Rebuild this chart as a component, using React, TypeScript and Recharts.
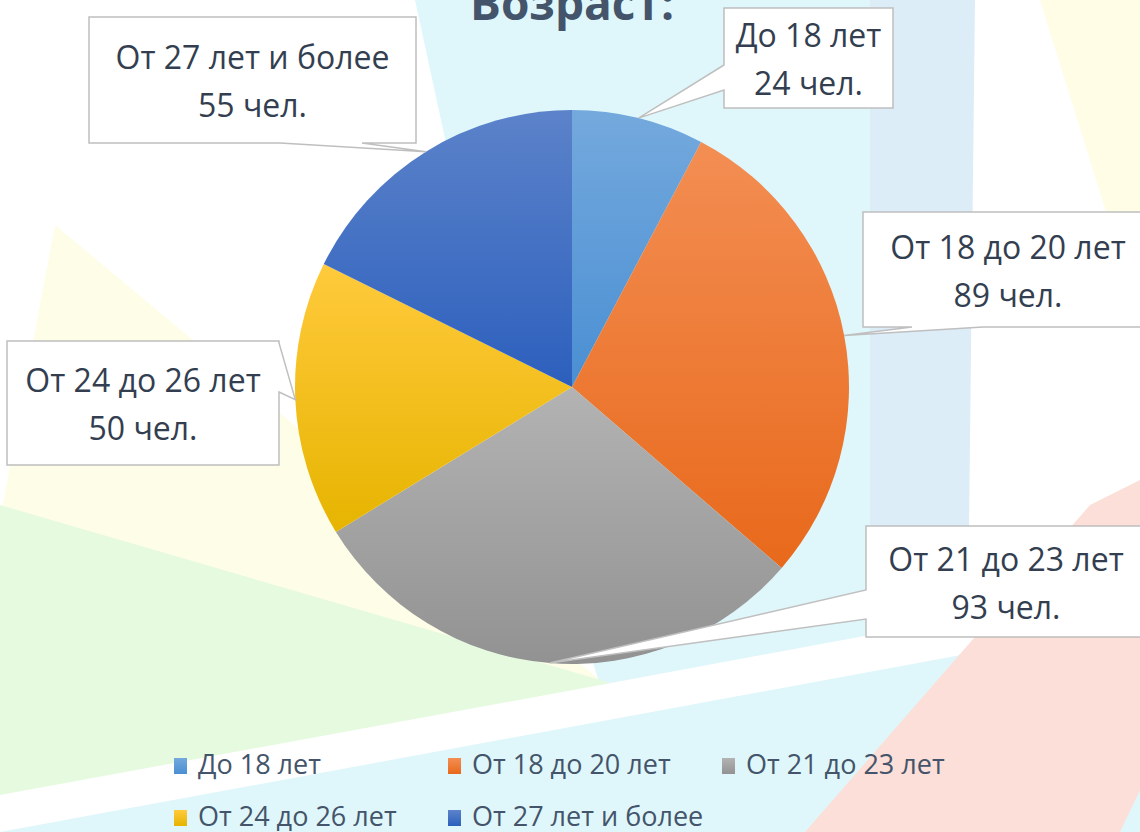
import React from 'react';
import { PieChart, Pie, Cell, Legend } from 'recharts';

const chartTitle = 'Возраст:';
const categories = ['До 18 лет', 'От 18 до 20 лет', 'От 21 до 23 лет', 'От 24 до 26 лет', 'От 27 лет и более'];
const counts = [24, 89, 93, 50, 55];
const unitLabel = 'чел.';

const data = categories.map((name, i) => ({ name, value: counts[i] }));

// top / bottom colour of each slice gradient
const sliceColors = [
  ['#74A9DD', '#4A8FD3'],
  ['#F38E53', '#E8691B'],
  ['#B3B3B3', '#929292'],
  ['#FFCA3C', '#E6B400'],
  ['#5C83CA', '#2C5FBD'],
];

const FONT = "'Open Sans', sans-serif";
const TEXT_COLOR = '#333F50';

// callout boxes were placed by hand in the original, so are here too
const callouts = [
  { x: 724, y: 8, w: 169, h: 100, side: 'left', a: 65, b: 90 },
  { x: 863, y: 212, w: 290, h: 115, side: 'bottom', a: 912, b: 983 },
  { x: 866, y: 526, w: 280, h: 111, side: 'left', a: 590, b: 619 },
  { x: 7, y: 341, w: 272, h: 124, side: 'right', a: 343, b: 392 },
  { x: 89, y: 17, w: 327, h: 126, side: 'bottom', a: 280, b: 362 },
];

const calloutPath = (c: any, tx: number, ty: number) => {
  const r = c.x + c.w;
  const btm = c.y + c.h;
  let d = `M${c.x},${c.y} L${r},${c.y} `;
  if (c.side === 'right') d += `L${r},${c.a} L${tx},${ty} L${r},${c.b} `;
  d += `L${r},${btm} `;
  if (c.side === 'bottom') d += `L${c.b},${btm} L${tx},${ty} L${c.a},${btm} `;
  d += `L${c.x},${btm} `;
  if (c.side === 'left') d += `L${c.x},${c.b} L${tx},${ty} L${c.x},${c.a} `;
  return d + 'Z';
};

const renderCallout = (props: any) => {
  const { cx, cy, midAngle, outerRadius, index, name, value } = props;
  const rad = Math.PI / 180;
  const tx = cx + outerRadius * Math.cos(-midAngle * rad);
  const ty = cy + outerRadius * Math.sin(-midAngle * rad);
  const c = callouts[index];
  const mx = c.x + c.w / 2;
  const my = c.y + c.h / 2;
  return (
    <g key={`callout-${index}`}>
      <path d={calloutPath(c, tx, ty)} fill="#FFFFFF" stroke="#BFBFBF" strokeWidth={1.5} />
      <text x={mx} y={my - 11} textAnchor="middle" fontSize={32} fontFamily={FONT} fill={TEXT_COLOR}>
        {name}
      </text>
      <text x={mx} y={my + 37} textAnchor="middle" fontSize={32} fontFamily={FONT} fill={TEXT_COLOR}>
        {`${value} ${unitLabel}`}
      </text>
    </g>
  );
};

// legend laid out in a 3 column grid, like the office chart
const renderLegend = (props: any) => {
  const { payload } = props;
  return (
    <svg width={1140} height={92}>
      {(payload || []).map((entry: any, i: number) => {
        const col = i % 3;
        const row = Math.floor(i / 3);
        const x = 174 + col * 274;
        const y = 18 + row * 52;
        return (
          <g key={`leg-${i}`}>
            <rect x={x} y={y} width={13} height={16} fill={`url(#slice-grad-${i})`} />
            <text x={x + 24} y={y + 16} fontSize={27} fontFamily={FONT} fill="#44546A">
              {entry.value}
            </text>
          </g>
        );
      })}
    </svg>
  );
};

const Background = () => (
  <svg width={1140} height={832} style={{ position: 'absolute', left: 0, top: 0 }}>
    <defs>
      {sliceColors.map(([top, bottom], i) => (
        <linearGradient key={i} id={`slice-grad-${i}`} x1="0" y1="0" x2="0" y2="1">
          <stop offset="0%" stopColor={top} />
          <stop offset="100%" stopColor={bottom} />
        </linearGradient>
      ))}
    </defs>
    <rect x={0} y={0} width={1140} height={832} fill="#FFFFFF" />
    <polygon points="1040,0 1140,0 1140,320" fill="#FFFDE6" />
    <polygon points="55,225 600,680 0,520" fill="#FEFDE8" />
    <polygon points="415,0 875,0 875,634 600,685 480,300" fill="#DFF7FA" />
    <polygon points="870,0 975,0 968,617 870,635" fill="#DCEDF8" />
    <polygon points="0,505 611,683 0,795" fill="#E6FAE0" />
    <polygon points="0,832 1140,622 1140,832" fill="#DFF7FA" />
    <polygon points="1090,505 1140,480 1140,790 1120,832 805,832" fill="#FCDFD8" />
    <text x={572} y={20} textAnchor="middle" fontSize={46} fontWeight={700} fontFamily={FONT} fill="#44546A">
      {chartTitle}
    </text>
  </svg>
);

export default function App() {
  return (
    <div style={{ position: 'absolute', left: 0, top: 0, width: 1140, height: 832, overflow: 'hidden', background: '#FFFFFF' }}>
      <Background />
      <PieChart width={1140} height={832} margin={{ top: 0, right: 0, bottom: 0, left: 0 }}>
        <Pie
          data={data}
          dataKey="value"
          nameKey="name"
          cx={572}
          cy={387}
          outerRadius={277}
          startAngle={90}
          endAngle={-270}
          stroke="none"
          label={renderCallout}
          labelLine={false}
          isAnimationActive={false}
        >
          {data.map((_, i) => (
            <Cell key={`cell-${i}`} fill={`url(#slice-grad-${i})`} />
          ))}
        </Pie>
        <Legend
          content={renderLegend}
          wrapperStyle={{ position: 'absolute', left: 0, top: 740, width: 1140, height: 92 }}
        />
      </PieChart>
    </div>
  );
}
